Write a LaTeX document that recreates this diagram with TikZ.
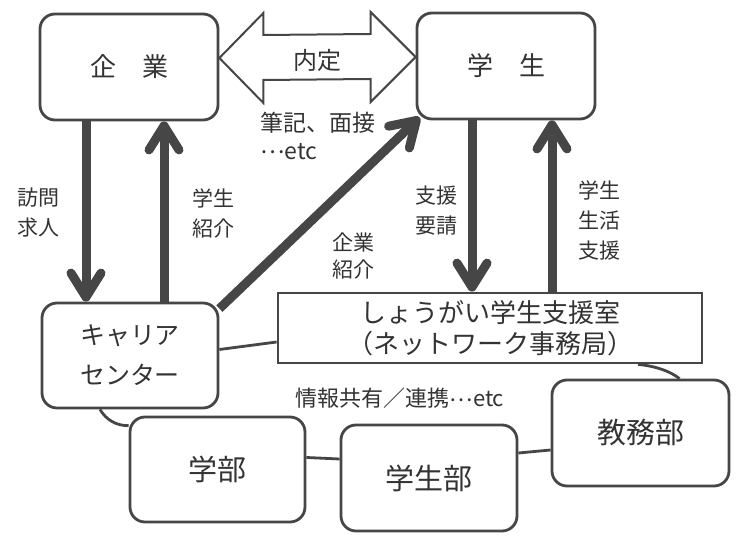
\documentclass[tikz,border=0pt]{standalone}
\usepackage{fontspec}
\setmainfont{Noto Sans CJK JP}
\usetikzlibrary{arrows.meta,calc}
\definecolor{ink}{HTML}{333333}
\definecolor{linegray}{HTML}{464646}
\newcommand{\myellip}{\raisebox{0.24em}{…}}
\begin{document}
\begin{tikzpicture}[x=1pt,y=-1pt,
  rbox/.style={draw=linegray, line width=2.8pt, rounded corners=15pt, fill=white, text=ink,
    minimum width=176pt, minimum height=106pt, inner sep=0pt, align=center},
  sbox/.style={draw=linegray, line width=2.8pt, fill=white, text=ink, inner sep=0pt, align=center},
  lbl/.style={text=ink, inner sep=0pt, align=center, font=\fontsize{21}{30}\selectfont},
  bigarrow/.style={draw=linegray, line width=9pt, -{Straight Barb[length=24pt,width=30pt,round]}},
  link/.style={draw=linegray, line width=2.8pt},
  dbl/.style={draw=linegray, line width=2pt, fill=white, line join=miter}
]
\useasboundingbox (0,0) rectangle (740,545);

% boxes
\node[rbox, minimum width=178pt, font=\fontsize{26}{30}\selectfont] (kigyo) at (129,67) {企　業};
\node[rbox, minimum width=178pt, font=\fontsize{26}{30}\selectfont] (gakusei) at (506,66) {学　生};
\node[rbox, minimum height=105pt, font=\fontsize{25}{40}\selectfont] (career) at (130,355.5) {キャリア\\センター};
\node[sbox, minimum width=424pt, minimum height=70pt, font=\fontsize{26}{31}\selectfont] (shien) at (490,328) {しょうがい学生支援室\\（ネットワーク事務局）};
\node[rbox, minimum width=175pt, minimum height=105pt, font=\fontsize{29}{32}\selectfont] (gakubu) at (217.5,469.5) {学部};
\node[rbox, font=\fontsize{29}{32}\selectfont] (gakuseibu) at (429,478) {学生部};
\node[rbox, minimum width=177pt, font=\fontsize{29}{32}\selectfont] (kyomu) at (640.5,433) {教務部};

% double arrow (naitei)
\coordinate (L) at ([yshift=9pt]kigyo.east);
\coordinate (R) at ([yshift=9pt]gakusei.west);
\draw[dbl] (L) -- ($(L)+(44,-45)$) -- ($(L)+(44,-23)$) -- ($(R)+(-45,-23)$) -- ($(R)+(-45,-45)$)
  -- (R) -- ($(R)+(-45,45)$) -- ($(R)+(-45,22)$) -- ($(L)+(44,22)$) -- ($(L)+(44,45)$) -- cycle;
\node[lbl, font=\fontsize{24}{28}\selectfont] (naitei) at (317,60) {内定};
\node[lbl, align=left, anchor=west, font=\fontsize{23}{28}\selectfont] (hikki) at (260,136) {筆記、面接\\\myellip etc};

% arrows
\draw[bigarrow] ([xshift=-43pt]kigyo.south) -- ([xshift=-44pt]career.north);
\draw[bigarrow] ([xshift=34pt]career.north) -- ([xshift=35pt]kigyo.south);
\draw[bigarrow] ([yshift=-7pt]career.north east) -- ([xshift=4pt,yshift=3pt]gakusei.south west);
\draw[bigarrow] ([xshift=-34pt]gakusei.south) -- ([xshift=-18pt]shien.north);
\draw[bigarrow] ([xshift=62pt]shien.north) -- ([xshift=46pt]gakusei.south);

% links
\draw[link] ([yshift=6pt]career.east) -- ([yshift=-14pt]shien.west);
\draw[link] ([xshift=-30pt]career.south) .. controls (106,420) and (117,426) .. ([yshift=-10pt]gakubu.north west);
\draw[link] ([yshift=12pt]gakubu.east) -- ([yshift=19pt]gakuseibu.west);
\draw[link] ([yshift=25pt]gakuseibu.east) -- ([yshift=-17pt]kyomu.west);
\draw[link] ([xshift=148pt]shien.south) .. controls (655,366) and (670,371) .. ([xshift=39pt]kyomu.north);

% labels
\node[lbl] (houmon) at (38,213) {訪問\\求人};
\node[lbl] (shokai1) at (213,213) {学生\\紹介};
\node[lbl, font=\fontsize{21}{27}\selectfont] (shokai2) at (353,256) {企業\\紹介};
\node[lbl] (yousei) at (436,211) {支援\\要請};
\node[lbl] (seikatsu) at (599,221) {学生\\生活\\支援};
\node[lbl, font=\fontsize{22}{26}\selectfont] (renkei) at (400,398) {情報共有／連携\myellip etc};
\end{tikzpicture}
\end{document}
